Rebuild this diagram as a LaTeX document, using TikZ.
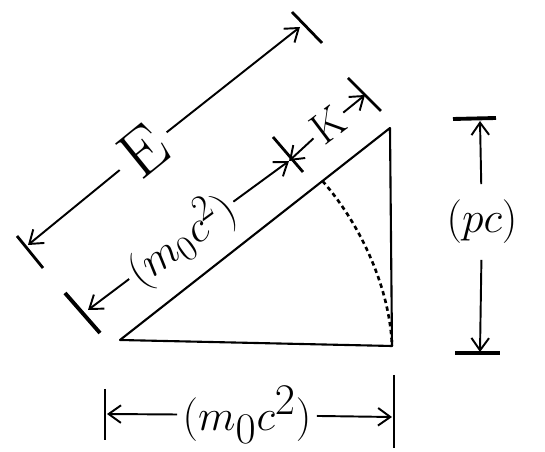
\documentclass[tikz,border=0pt]{standalone}
\usepackage{amsmath}
\usepackage{tikz}
\usetikzlibrary{arrows.meta,calc}

\begin{document}
\begin{tikzpicture}[x=0.02cm,y=-0.02cm,
    side/.style={line width=1.2pt,line join=round},
    dimline/.style={line width=1.1pt,-{Straight Barb[length=7pt,width=10pt,line width=1.1pt]}},
    tickmark/.style={line width=1.6pt},
    lbl/.style={inner sep=3pt,font=\fontsize{33}{38}\selectfont}]
\useasboundingbox (0,0) rectangle (545,452);

% triangle
\coordinate (A) at (120,340);
\coordinate (B) at (392,346);
\coordinate (C) at (390,128);
\draw[side] (A) -- (B) -- (C) -- cycle;
\coordinate (arcTop) at ($(A)!0.75!(C)$);
\draw[line width=1.5pt,dash pattern=on 2.5pt off 2pt] (arcTop) .. controls (362,226) and (390,290) .. (B);

% arrow tips
\coordinate (eLtip) at (28,245);
\coordinate (eRtip) at (300,27);
\coordinate (iLtip) at (88,310);
\coordinate (iMtip) at (289,161);
\coordinate (iRtip) at (365,95);
\coordinate (pcTop) at (480,121);
\coordinate (pcBot) at (480,352);
\coordinate (bLtip) at (107,414);
\coordinate (bRtip) at (392,417);

% labels
\node[lbl,font=\fontsize{38}{42}\selectfont,inner sep=5pt,rotate=39] (eLbl) at (143,151) {E};
\node[lbl,font=\fontsize{28}{32}\selectfont,inner sep=2pt,rotate=36] (restLbl) at (181,240) {$(m_0c^2)$};
\node[lbl,font=\fontsize{25}{29}\selectfont,inner sep=2pt,rotate=37] (kLbl) at (328,125) {K};
\node[lbl,font=\fontsize{35}{40}\selectfont,inner xsep=3pt,inner ysep=9pt] (pcLbl) at (482,222) {$(pc)$};
\node[lbl,inner sep=3pt] (baseLbl) at (247,415) {$(m_0c^2)$};

% dimension lines
\foreach \from/\to in {eLbl/eLtip, eLbl/eRtip, restLbl/iLtip, restLbl/iMtip,
    kLbl/iMtip, kLbl/iRtip, pcLbl/pcTop, pcLbl/pcBot, baseLbl/bLtip, baseLbl/bRtip}
    \draw[dimline] (\from) -- (\to);

% end ticks
\draw[tickmark] (17,236) -- (43,268);
\draw[tickmark] (292,12) -- (322,43);
\draw[tickmark,line width=2.2pt] (65,293) -- (100,333);
\draw[tickmark] (273,137) -- (303,172);
\draw[tickmark] (348,78) -- (381,111);
\draw[tickmark,line width=2.2pt] (453,119) -- (496,118);
\draw[tickmark,line width=2.2pt] (455,353) -- (500,353);
\draw[tickmark] (105,389) -- (105,440);
\draw[tickmark] (394,375) -- (394,448);
\end{tikzpicture}
\end{document}
